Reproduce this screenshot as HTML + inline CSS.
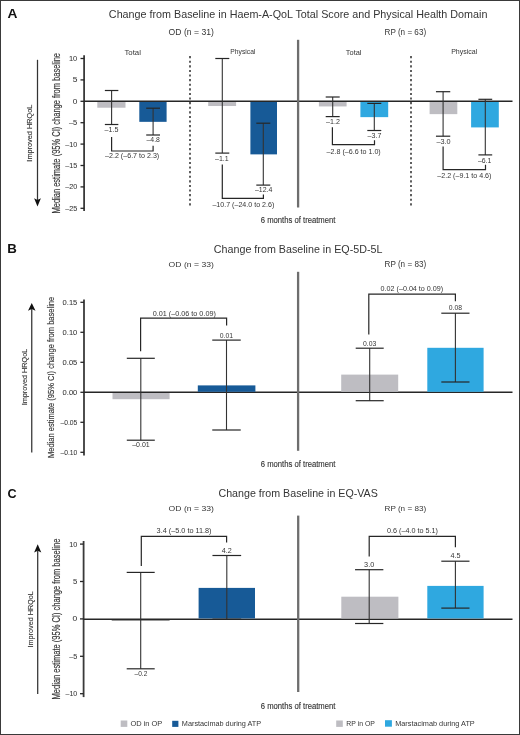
<!DOCTYPE html>
<html><head><meta charset="utf-8"><style>
html,body{margin:0;padding:0;background:#fff;}
body{width:520px;height:735px;overflow:hidden;position:relative;}
.frame{position:absolute;left:0;top:0;width:518px;height:733px;border:1px solid #3a3a3a;}
svg{position:absolute;left:0;top:0;font-family:"Liberation Sans", sans-serif;will-change:transform;}
</style></head><body>
<div class="frame"></div>
<svg width="520" height="735" viewBox="0 0 520 735">
<text x="7.46" y="17.90" font-size="13.33" fill="#111" font-weight="bold" textLength="9.92" lengthAdjust="spacingAndGlyphs">A</text>
<text x="108.86" y="17.90" font-size="10.72" fill="#353535" font-weight="normal" textLength="378.54" lengthAdjust="spacingAndGlyphs">Change from Baseline in Haem-A-QoL Total Score and Physical Health Domain</text>
<text x="168.61" y="35.00" font-size="8.41" fill="#353535" font-weight="normal" textLength="45.22" lengthAdjust="spacingAndGlyphs">OD (n = 31)</text>
<text x="384.55" y="35.00" font-size="8.41" fill="#353535" font-weight="normal" textLength="41.56" lengthAdjust="spacingAndGlyphs">RP (n = 63)</text>
<text x="124.44" y="54.70" font-size="8.00" fill="#353535" font-weight="normal" textLength="16.48" lengthAdjust="spacingAndGlyphs">Total</text>
<text x="230.36" y="54.30" font-size="7.03" fill="#353535" font-weight="normal" textLength="25.00" lengthAdjust="spacingAndGlyphs">Physical</text>
<text x="345.85" y="54.70" font-size="8.00" fill="#353535" font-weight="normal" textLength="15.65" lengthAdjust="spacingAndGlyphs">Total</text>
<text x="451.14" y="54.30" font-size="7.03" fill="#353535" font-weight="normal" textLength="26.14" lengthAdjust="spacingAndGlyphs">Physical</text>
<line x1="84.1" y1="55.2" x2="84.1" y2="211" stroke="#3a3a3a" stroke-width="1.8"/>
<line x1="80.5" y1="58.49999999999999" x2="84.1" y2="58.49999999999999" stroke="#262626" stroke-width="1.3"/>
<text x="68.94" y="61.00" font-size="7.86" fill="#353535" font-weight="normal" textLength="8.34" lengthAdjust="spacingAndGlyphs" stroke="#353535" stroke-width="0.05">10</text>
<line x1="80.5" y1="79.89999999999999" x2="84.1" y2="79.89999999999999" stroke="#262626" stroke-width="1.3"/>
<text x="72.66" y="82.40" font-size="7.86" fill="#353535" font-weight="normal" textLength="4.68" lengthAdjust="spacingAndGlyphs" stroke="#353535" stroke-width="0.05">5</text>
<line x1="80.5" y1="101.3" x2="84.1" y2="101.3" stroke="#262626" stroke-width="1.3"/>
<text x="72.67" y="103.80" font-size="7.86" fill="#353535" font-weight="normal" textLength="4.63" lengthAdjust="spacingAndGlyphs" stroke="#353535" stroke-width="0.05">0</text>
<line x1="80.5" y1="122.7" x2="84.1" y2="122.7" stroke="#262626" stroke-width="1.3"/>
<text x="68.90" y="125.20" font-size="7.86" fill="#353535" font-weight="normal" textLength="8.42" lengthAdjust="spacingAndGlyphs" stroke="#353535" stroke-width="0.05">–5</text>
<line x1="80.5" y1="144.1" x2="84.1" y2="144.1" stroke="#262626" stroke-width="1.3"/>
<text x="65.20" y="146.60" font-size="7.86" fill="#353535" font-weight="normal" textLength="12.08" lengthAdjust="spacingAndGlyphs" stroke="#353535" stroke-width="0.05">–10</text>
<line x1="80.5" y1="165.5" x2="84.1" y2="165.5" stroke="#262626" stroke-width="1.3"/>
<text x="65.20" y="168.00" font-size="7.86" fill="#353535" font-weight="normal" textLength="12.12" lengthAdjust="spacingAndGlyphs" stroke="#353535" stroke-width="0.05">–15</text>
<line x1="80.5" y1="186.9" x2="84.1" y2="186.9" stroke="#262626" stroke-width="1.3"/>
<text x="65.20" y="189.40" font-size="7.86" fill="#353535" font-weight="normal" textLength="12.08" lengthAdjust="spacingAndGlyphs" stroke="#353535" stroke-width="0.05">–20</text>
<line x1="80.5" y1="208.3" x2="84.1" y2="208.3" stroke="#262626" stroke-width="1.3"/>
<text x="65.20" y="210.80" font-size="7.86" fill="#353535" font-weight="normal" textLength="12.12" lengthAdjust="spacingAndGlyphs" stroke="#353535" stroke-width="0.05">–25</text>
<line x1="84.1" y1="101.3" x2="512.5" y2="101.3" stroke="#262626" stroke-width="1.4"/>
<line x1="190" y1="56.1" x2="190" y2="208" stroke="#444" stroke-width="1.7" stroke-dasharray="2.1 2.5"/>
<line x1="411" y1="56.1" x2="411" y2="208" stroke="#444" stroke-width="1.7" stroke-dasharray="2.1 2.5"/>
<line x1="298.1" y1="39.8" x2="298.1" y2="207.5" stroke="#6e6e6e" stroke-width="2.3"/>
<rect x="97.3" y="102.00" width="28.20" height="5.72" fill="#bebdc2"/>
<rect x="139.3" y="102.00" width="27.30" height="19.84" fill="#175a97"/>
<line x1="111.6" y1="90.5" x2="111.6" y2="124.5" stroke="#333" stroke-width="1.1"/>
<line x1="104.85" y1="90.5" x2="118.35" y2="90.5" stroke="#262626" stroke-width="1.2"/>
<line x1="104.85" y1="124.5" x2="118.35" y2="124.5" stroke="#262626" stroke-width="1.2"/>
<line x1="153.1" y1="108.2" x2="153.1" y2="135.0" stroke="#333" stroke-width="1.1"/>
<line x1="146.2" y1="108.2" x2="160.0" y2="108.2" stroke="#262626" stroke-width="1.2"/>
<line x1="146.2" y1="135.0" x2="160.0" y2="135.0" stroke="#262626" stroke-width="1.2"/>
<text x="104.50" y="132.00" font-size="7.29" fill="#353535" font-weight="normal" textLength="13.90" lengthAdjust="spacingAndGlyphs">–1.5</text>
<text x="146.50" y="142.30" font-size="7.29" fill="#353535" font-weight="normal" textLength="13.38" lengthAdjust="spacingAndGlyphs">–4.8</text>
<polyline points="111.6,137 111.6,151.0 153.1,151.0 153.1,145.7" fill="none" stroke="#262626" stroke-width="1.2"/>
<text x="105.00" y="158.30" font-size="7.29" fill="#353535" font-weight="normal" textLength="54.24" lengthAdjust="spacingAndGlyphs">–2.2 (–6.7 to 2.3)</text>
<rect x="208.2" y="102.00" width="27.90" height="4.01" fill="#bebdc2"/>
<rect x="250.4" y="102.00" width="26.60" height="52.37" fill="#175a97"/>
<line x1="222.3" y1="58.5" x2="222.3" y2="153.1" stroke="#333" stroke-width="1.1"/>
<line x1="215.3" y1="58.5" x2="229.3" y2="58.5" stroke="#262626" stroke-width="1.2"/>
<line x1="215.3" y1="153.1" x2="229.3" y2="153.1" stroke="#262626" stroke-width="1.2"/>
<line x1="263.3" y1="123.2" x2="263.3" y2="185.1" stroke="#333" stroke-width="1.1"/>
<line x1="256.3" y1="123.2" x2="270.3" y2="123.2" stroke="#262626" stroke-width="1.2"/>
<line x1="256.3" y1="185.1" x2="270.3" y2="185.1" stroke="#262626" stroke-width="1.2"/>
<text x="215.00" y="160.80" font-size="7.14" fill="#353535" font-weight="normal" textLength="13.73" lengthAdjust="spacingAndGlyphs">–1.1</text>
<text x="255.00" y="191.50" font-size="7.57" fill="#353535" font-weight="normal" textLength="17.43" lengthAdjust="spacingAndGlyphs">–12.4</text>
<polyline points="222.3,164.6 222.3,198.3 263.4,198.3 263.4,194.4" fill="none" stroke="#262626" stroke-width="1.2"/>
<text x="212.40" y="206.50" font-size="7.43" fill="#353535" font-weight="normal" textLength="61.95" lengthAdjust="spacingAndGlyphs">–10.7 (–24.0 to 2.6)</text>
<rect x="318.9" y="102.00" width="27.70" height="4.44" fill="#bebdc2"/>
<rect x="360.4" y="102.00" width="27.80" height="15.14" fill="#2fa8e0"/>
<line x1="332.7" y1="97.0" x2="332.7" y2="116.6" stroke="#333" stroke-width="1.1"/>
<line x1="325.7" y1="97.0" x2="339.7" y2="97.0" stroke="#262626" stroke-width="1.2"/>
<line x1="325.7" y1="116.6" x2="339.7" y2="116.6" stroke="#262626" stroke-width="1.2"/>
<line x1="374.3" y1="103.4" x2="374.3" y2="130.5" stroke="#333" stroke-width="1.1"/>
<line x1="367.3" y1="103.4" x2="381.3" y2="103.4" stroke="#262626" stroke-width="1.2"/>
<line x1="367.3" y1="130.5" x2="381.3" y2="130.5" stroke="#262626" stroke-width="1.2"/>
<text x="326.00" y="123.90" font-size="7.29" fill="#353535" font-weight="normal" textLength="13.87" lengthAdjust="spacingAndGlyphs">–1.2</text>
<text x="367.60" y="137.70" font-size="7.29" fill="#353535" font-weight="normal" textLength="13.76" lengthAdjust="spacingAndGlyphs">–3.7</text>
<polyline points="332.4,127.2 332.4,144.7 374.5,144.7 374.5,140.3" fill="none" stroke="#262626" stroke-width="1.2"/>
<text x="326.60" y="153.60" font-size="7.29" fill="#353535" font-weight="normal" textLength="54.14" lengthAdjust="spacingAndGlyphs">–2.8 (–6.6 to 1.0)</text>
<rect x="429.6" y="102.00" width="27.70" height="12.14" fill="#bebdc2"/>
<rect x="471.1" y="102.00" width="27.70" height="25.41" fill="#2fa8e0"/>
<line x1="443.1" y1="91.7" x2="443.1" y2="136.2" stroke="#333" stroke-width="1.1"/>
<line x1="435.95000000000005" y1="91.7" x2="450.25" y2="91.7" stroke="#262626" stroke-width="1.2"/>
<line x1="435.95000000000005" y1="136.2" x2="450.25" y2="136.2" stroke="#262626" stroke-width="1.2"/>
<line x1="485.3" y1="99.3" x2="485.3" y2="154.9" stroke="#333" stroke-width="1.1"/>
<line x1="478.40000000000003" y1="99.3" x2="492.2" y2="99.3" stroke="#262626" stroke-width="1.2"/>
<line x1="478.40000000000003" y1="154.9" x2="492.2" y2="154.9" stroke="#262626" stroke-width="1.2"/>
<text x="436.40" y="143.70" font-size="7.29" fill="#353535" font-weight="normal" textLength="14.16" lengthAdjust="spacingAndGlyphs">–3.0</text>
<text x="478.00" y="162.70" font-size="7.14" fill="#353535" font-weight="normal" textLength="13.32" lengthAdjust="spacingAndGlyphs">–6.1</text>
<polyline points="443.1,146.6 443.1,169.6 485.5,169.6 485.5,164.8" fill="none" stroke="#262626" stroke-width="1.2"/>
<text x="437.30" y="177.60" font-size="7.14" fill="#353535" font-weight="normal" textLength="54.14" lengthAdjust="spacingAndGlyphs">–2.2 (–9.1 to 4.6)</text>
<text x="260.72" y="222.70" font-size="9.52" fill="#353535" font-weight="normal" textLength="74.74" lengthAdjust="spacingAndGlyphs" stroke="#353535" stroke-width="0.15">6 months of treatment</text>
<line x1="37.5" y1="59.8" x2="37.5" y2="200" stroke="#333" stroke-width="1.25"/>
<polygon points="34.1,198.2 37.5,200.0 40.9,198.2 37.5,206.4" fill="#111"/>
<text transform="translate(31.70,161.00) rotate(-90)" x="-0.66" y="0" font-size="6.38" fill="#353535" textLength="56.99" lengthAdjust="spacingAndGlyphs" stroke="#353535" stroke-width="0.12">Improved HRQoL</text>
<text transform="translate(59.60,212.90) rotate(-90)" x="-0.60" y="0" font-size="10.29" fill="#353535" textLength="160.54" lengthAdjust="spacingAndGlyphs" stroke="#353535" stroke-width="0.15">Median estimate (95% CI) change from baseline</text>
<text x="7.24" y="253.20" font-size="13.04" fill="#111" font-weight="bold" textLength="9.59" lengthAdjust="spacingAndGlyphs">B</text>
<text x="213.86" y="252.90" font-size="10.29" fill="#353535" font-weight="normal" textLength="168.56" lengthAdjust="spacingAndGlyphs">Change from Baseline in EQ-5D-5L</text>
<text x="168.61" y="266.50" font-size="7.97" fill="#353535" font-weight="normal" textLength="45.22" lengthAdjust="spacingAndGlyphs">OD (n = 33)</text>
<text x="384.55" y="266.50" font-size="8.26" fill="#353535" font-weight="normal" textLength="41.56" lengthAdjust="spacingAndGlyphs">RP (n = 83)</text>
<line x1="84.0" y1="299.5" x2="84.0" y2="455.4" stroke="#3a3a3a" stroke-width="1.8"/>
<line x1="80.4" y1="302.3" x2="84.0" y2="302.3" stroke="#262626" stroke-width="1.3"/>
<text x="62.60" y="304.80" font-size="7.57" fill="#353535" font-weight="normal" textLength="14.71" lengthAdjust="spacingAndGlyphs" stroke="#353535" stroke-width="0.05">0.15</text>
<line x1="80.4" y1="332.3" x2="84.0" y2="332.3" stroke="#262626" stroke-width="1.3"/>
<text x="62.60" y="334.80" font-size="7.57" fill="#353535" font-weight="normal" textLength="14.68" lengthAdjust="spacingAndGlyphs" stroke="#353535" stroke-width="0.05">0.10</text>
<line x1="80.4" y1="362.3" x2="84.0" y2="362.3" stroke="#262626" stroke-width="1.3"/>
<text x="62.60" y="364.80" font-size="7.57" fill="#353535" font-weight="normal" textLength="14.71" lengthAdjust="spacingAndGlyphs" stroke="#353535" stroke-width="0.05">0.05</text>
<line x1="80.4" y1="392.3" x2="84.0" y2="392.3" stroke="#262626" stroke-width="1.3"/>
<text x="62.60" y="394.80" font-size="7.57" fill="#353535" font-weight="normal" textLength="14.68" lengthAdjust="spacingAndGlyphs" stroke="#353535" stroke-width="0.05">0.00</text>
<line x1="80.4" y1="422.3" x2="84.0" y2="422.3" stroke="#262626" stroke-width="1.3"/>
<text x="60.40" y="424.80" font-size="7.57" fill="#353535" font-weight="normal" textLength="16.89" lengthAdjust="spacingAndGlyphs" stroke="#353535" stroke-width="0.05">–0.05</text>
<line x1="80.4" y1="452.3" x2="84.0" y2="452.3" stroke="#262626" stroke-width="1.3"/>
<text x="60.40" y="454.80" font-size="7.57" fill="#353535" font-weight="normal" textLength="16.85" lengthAdjust="spacingAndGlyphs" stroke="#353535" stroke-width="0.05">–0.10</text>
<line x1="84.0" y1="392.3" x2="512.5" y2="392.3" stroke="#262626" stroke-width="1.4"/>
<line x1="298.1" y1="271.8" x2="298.1" y2="450.8" stroke="#6e6e6e" stroke-width="2.3"/>
<rect x="112.5" y="393.00" width="57.10" height="6.20" fill="#bebdc2"/>
<rect x="197.8" y="385.40" width="57.60" height="6.40" fill="#175a97"/>
<line x1="140.8" y1="358.3" x2="140.8" y2="440.2" stroke="#333" stroke-width="1.1"/>
<line x1="126.80000000000001" y1="358.3" x2="154.8" y2="358.3" stroke="#262626" stroke-width="1.2"/>
<line x1="126.80000000000001" y1="440.2" x2="154.8" y2="440.2" stroke="#262626" stroke-width="1.2"/>
<line x1="226.5" y1="340.1" x2="226.5" y2="430.0" stroke="#333" stroke-width="1.1"/>
<line x1="212.25" y1="340.1" x2="240.75" y2="340.1" stroke="#262626" stroke-width="1.2"/>
<line x1="212.25" y1="430.0" x2="240.75" y2="430.0" stroke="#262626" stroke-width="1.2"/>
<text x="132.20" y="447.40" font-size="6.29" fill="#353535" font-weight="normal" textLength="17.53" lengthAdjust="spacingAndGlyphs">–0.01</text>
<text x="219.73" y="337.80" font-size="6.57" fill="#353535" font-weight="normal" textLength="13.29" lengthAdjust="spacingAndGlyphs">0.01</text>
<polyline points="140.6,351.3 140.6,318.1 226.6,318.1 226.6,325.6" fill="none" stroke="#262626" stroke-width="1.2"/>
<text x="152.81" y="315.50" font-size="6.43" fill="#353535" font-weight="normal" textLength="63.05" lengthAdjust="spacingAndGlyphs">0.01 (–0.06 to 0.09)</text>
<rect x="341.2" y="374.60" width="57.00" height="17.20" fill="#bebdc2"/>
<rect x="427.3" y="347.80" width="56.30" height="44.00" fill="#2fa8e0"/>
<line x1="369.7" y1="348.2" x2="369.7" y2="400.7" stroke="#333" stroke-width="1.1"/>
<line x1="355.7" y1="348.2" x2="383.7" y2="348.2" stroke="#262626" stroke-width="1.2"/>
<line x1="355.7" y1="400.7" x2="383.7" y2="400.7" stroke="#262626" stroke-width="1.2"/>
<line x1="455.4" y1="313.2" x2="455.4" y2="382.0" stroke="#333" stroke-width="1.1"/>
<line x1="441.29999999999995" y1="313.2" x2="469.5" y2="313.2" stroke="#262626" stroke-width="1.2"/>
<line x1="441.29999999999995" y1="382.0" x2="469.5" y2="382.0" stroke="#262626" stroke-width="1.2"/>
<text x="363.03" y="345.60" font-size="6.57" fill="#353535" font-weight="normal" textLength="13.25" lengthAdjust="spacingAndGlyphs">0.03</text>
<text x="448.73" y="310.10" font-size="6.57" fill="#353535" font-weight="normal" textLength="13.25" lengthAdjust="spacingAndGlyphs">0.08</text>
<polyline points="368.8,334.5 368.8,294.2 455.4,294.2 455.4,301.2" fill="none" stroke="#262626" stroke-width="1.2"/>
<text x="380.61" y="291.00" font-size="6.43" fill="#353535" font-weight="normal" textLength="62.54" lengthAdjust="spacingAndGlyphs">0.02 (–0.04 to 0.09)</text>
<text x="260.72" y="467.30" font-size="9.66" fill="#353535" font-weight="normal" textLength="74.74" lengthAdjust="spacingAndGlyphs" stroke="#353535" stroke-width="0.15">6 months of treatment</text>
<line x1="31.75" y1="308" x2="31.75" y2="452.5" stroke="#333" stroke-width="1.25"/>
<polygon points="28.0,310.8 31.75,309.0 35.5,310.8 31.75,302.9" fill="#111"/>
<text transform="translate(26.50,404.70) rotate(-90)" x="-0.65" y="0" font-size="7.39" fill="#353535" textLength="56.58" lengthAdjust="spacingAndGlyphs" stroke="#353535" stroke-width="0.12">Improved HRQoL</text>
<text transform="translate(54.00,457.50) rotate(-90)" x="-0.60" y="0" font-size="9.86" fill="#353535" textLength="161.34" lengthAdjust="spacingAndGlyphs" stroke="#353535" stroke-width="0.15">Median estimate (95% CI) change from baseline</text>
<text x="7.50" y="498.00" font-size="13.41" fill="#111" font-weight="bold" textLength="9.10" lengthAdjust="spacingAndGlyphs">C</text>
<text x="218.47" y="497.30" font-size="10.87" fill="#353535" font-weight="normal" textLength="159.35" lengthAdjust="spacingAndGlyphs">Change from Baseline in EQ-VAS</text>
<text x="168.61" y="510.60" font-size="8.12" fill="#353535" font-weight="normal" textLength="45.22" lengthAdjust="spacingAndGlyphs">OD (n = 33)</text>
<text x="384.55" y="510.60" font-size="7.83" fill="#353535" font-weight="normal" textLength="41.56" lengthAdjust="spacingAndGlyphs">RP (n = 83)</text>
<line x1="83.6" y1="541.0" x2="83.6" y2="697.1" stroke="#3a3a3a" stroke-width="1.8"/>
<line x1="80.0" y1="544.0999999999999" x2="83.6" y2="544.0999999999999" stroke="#262626" stroke-width="1.3"/>
<text x="69.15" y="546.50" font-size="7.43" fill="#353535" font-weight="normal" textLength="8.12" lengthAdjust="spacingAndGlyphs" stroke="#353535" stroke-width="0.05">10</text>
<line x1="80.0" y1="581.5" x2="83.6" y2="581.5" stroke="#262626" stroke-width="1.3"/>
<text x="72.99" y="583.90" font-size="7.43" fill="#353535" font-weight="normal" textLength="4.33" lengthAdjust="spacingAndGlyphs" stroke="#353535" stroke-width="0.05">5</text>
<line x1="80.0" y1="618.9" x2="83.6" y2="618.9" stroke="#262626" stroke-width="1.3"/>
<text x="72.56" y="621.30" font-size="7.43" fill="#353535" font-weight="normal" textLength="4.75" lengthAdjust="spacingAndGlyphs" stroke="#353535" stroke-width="0.05">0</text>
<line x1="80.0" y1="656.3" x2="83.6" y2="656.3" stroke="#262626" stroke-width="1.3"/>
<text x="69.20" y="658.70" font-size="7.43" fill="#353535" font-weight="normal" textLength="8.11" lengthAdjust="spacingAndGlyphs" stroke="#353535" stroke-width="0.05">–5</text>
<line x1="80.0" y1="693.7" x2="83.6" y2="693.7" stroke="#262626" stroke-width="1.3"/>
<text x="65.50" y="696.10" font-size="7.43" fill="#353535" font-weight="normal" textLength="11.77" lengthAdjust="spacingAndGlyphs" stroke="#353535" stroke-width="0.05">–10</text>
<rect x="111.7" y="619.20" width="57.90" height="1.70" fill="#909090"/>
<line x1="83.6" y1="619.3" x2="512.5" y2="619.3" stroke="#262626" stroke-width="1.4"/>
<line x1="298.2" y1="515.6" x2="298.2" y2="692" stroke="#6e6e6e" stroke-width="2.3"/>
<rect x="198.6" y="587.90" width="56.40" height="30.50" fill="#175a97"/>
<line x1="140.7" y1="572.4" x2="140.7" y2="668.8" stroke="#333" stroke-width="1.1"/>
<line x1="126.69999999999999" y1="572.4" x2="154.7" y2="572.4" stroke="#262626" stroke-width="1.2"/>
<line x1="126.69999999999999" y1="668.8" x2="154.7" y2="668.8" stroke="#262626" stroke-width="1.2"/>
<line x1="226.8" y1="555.5" x2="226.8" y2="619.2" stroke="#333" stroke-width="1.1"/>
<line x1="212.45000000000002" y1="555.5" x2="241.15" y2="555.5" stroke="#262626" stroke-width="1.2"/>
<line x1="212.45000000000002" y1="619.2" x2="241.15" y2="619.2" stroke="#262626" stroke-width="1.2"/>
<text x="134.50" y="676.20" font-size="6.57" fill="#353535" font-weight="normal" textLength="12.84" lengthAdjust="spacingAndGlyphs">–0.2</text>
<text x="221.66" y="552.90" font-size="6.29" fill="#353535" font-weight="normal" textLength="10.00" lengthAdjust="spacingAndGlyphs">4.2</text>
<polyline points="141.3,566 141.3,536.4 226.6,536.4 226.6,542.5" fill="none" stroke="#262626" stroke-width="1.2"/>
<text x="156.61" y="533.30" font-size="6.57" fill="#353535" font-weight="normal" textLength="54.94" lengthAdjust="spacingAndGlyphs">3.4 (–5.0 to 11.8)</text>
<rect x="341.3" y="596.70" width="57.10" height="21.70" fill="#bebdc2"/>
<rect x="427.3" y="585.90" width="56.30" height="32.50" fill="#2fa8e0"/>
<line x1="369.2" y1="569.7" x2="369.2" y2="623.5" stroke="#333" stroke-width="1.1"/>
<line x1="355.05" y1="569.7" x2="383.34999999999997" y2="569.7" stroke="#262626" stroke-width="1.2"/>
<line x1="355.05" y1="623.5" x2="383.34999999999997" y2="623.5" stroke="#262626" stroke-width="1.2"/>
<line x1="455.4" y1="561.2" x2="455.4" y2="608.1" stroke="#333" stroke-width="1.1"/>
<line x1="441.29999999999995" y1="561.2" x2="469.5" y2="561.2" stroke="#262626" stroke-width="1.2"/>
<line x1="441.29999999999995" y1="608.1" x2="469.5" y2="608.1" stroke="#262626" stroke-width="1.2"/>
<text x="364.11" y="566.80" font-size="6.43" fill="#353535" font-weight="normal" textLength="10.15" lengthAdjust="spacingAndGlyphs">3.0</text>
<text x="450.46" y="558.20" font-size="6.43" fill="#353535" font-weight="normal" textLength="10.03" lengthAdjust="spacingAndGlyphs">4.5</text>
<polyline points="369.2,556.4 369.2,536.3 455.4,536.3 455.4,547.3" fill="none" stroke="#262626" stroke-width="1.2"/>
<text x="387.01" y="532.80" font-size="6.43" fill="#353535" font-weight="normal" textLength="50.86" lengthAdjust="spacingAndGlyphs">0.6 (–4.0 to 5.1)</text>
<text x="260.72" y="708.80" font-size="8.97" fill="#353535" font-weight="normal" textLength="74.74" lengthAdjust="spacingAndGlyphs" stroke="#353535" stroke-width="0.15">6 months of treatment</text>
<line x1="37.7" y1="551" x2="37.7" y2="694.1" stroke="#333" stroke-width="1.25"/>
<polygon points="34.1,552.6 37.7,550.8 41.3,552.6 37.7,544.3" fill="#111"/>
<text transform="translate(32.60,646.80) rotate(-90)" x="-0.65" y="0" font-size="7.39" fill="#353535" textLength="56.27" lengthAdjust="spacingAndGlyphs" stroke="#353535" stroke-width="0.12">Improved HRQoL</text>
<text transform="translate(60.00,698.80) rotate(-90)" x="-0.60" y="0" font-size="10.29" fill="#353535" textLength="160.74" lengthAdjust="spacingAndGlyphs" stroke="#353535" stroke-width="0.15">Median estimate (95% CI) change from baseline</text>
<rect x="120.7" y="720.50" width="6.60" height="6.40" fill="#bebdc2"/>
<text x="130.47" y="725.80" font-size="7.10" fill="#353535" font-weight="normal" textLength="31.84" lengthAdjust="spacingAndGlyphs">OD in OP</text>
<rect x="172.2" y="720.80" width="6.20" height="6.10" fill="#175a97"/>
<text x="181.82" y="725.80" font-size="7.10" fill="#353535" font-weight="normal" textLength="79.35" lengthAdjust="spacingAndGlyphs">Marstacimab during ATP</text>
<rect x="336.2" y="720.50" width="6.60" height="6.40" fill="#bebdc2"/>
<text x="346.35" y="725.80" font-size="7.10" fill="#353535" font-weight="normal" textLength="28.60" lengthAdjust="spacingAndGlyphs">RP in OP</text>
<rect x="385.0" y="720.20" width="6.90" height="6.50" fill="#2fa8e0"/>
<text x="395.21" y="725.90" font-size="7.83" fill="#353535" font-weight="normal" textLength="79.55" lengthAdjust="spacingAndGlyphs">Marstacimab during ATP</text>
</svg>
</body></html>
